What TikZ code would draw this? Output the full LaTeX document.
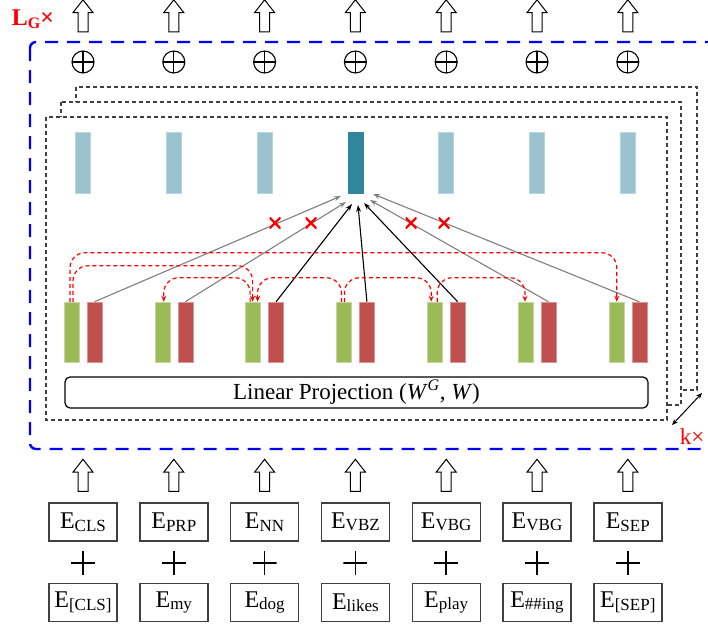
\documentclass[tikz,border=0pt]{standalone}
\usepackage{fontspec}
\setmainfont{Liberation Serif}
\usetikzlibrary{arrows.meta,positioning,calc,shapes.arrows}
\definecolor{hidblue}{RGB}{155,195,207}
\definecolor{hidteal}{RGB}{49,134,155}
\definecolor{posgreen}{RGB}{155,187,89}
\definecolor{tokred}{RGB}{192,80,77}
\definecolor{dashgray}{RGB}{64,64,64}
\definecolor{lgblue}{RGB}{0,0,255}
\newcommand{\Esub}[1]{E\raisebox{-2.5pt}{\fontsize{17}{17}\selectfont #1}}
\tikzset{
  uparr/.style={single arrow, draw=black, fill=white, line width=1pt, rotate=90,
                minimum height=32pt, inner xsep=0pt, inner ysep=4.5pt, single arrow head extend=5pt,
                single arrow tip angle=76},
  oplus/.style={circle, draw=black, line width=1.1pt, minimum size=22pt, inner sep=0pt,
                path picture={\draw[line width=1.1pt] (path picture bounding box.north) -- (path picture bounding box.south)
                  (path picture bounding box.west) -- (path picture bounding box.east);}},
  hbar/.style={fill=hidblue, draw=hidblue!70!white, line width=0.5pt, minimum width=15pt, minimum height=61pt, inner sep=0pt},
  gbar/.style={fill=posgreen, draw=posgreen!60!white, line width=0.5pt, minimum width=15pt, minimum height=60pt, inner sep=0pt},
  rbar/.style={fill=tokred, draw=tokred!60!white, line width=0.5pt, minimum width=15pt, minimum height=60pt, inner sep=0pt},
  embox/.style={draw=dashgray, line width=1.4pt, minimum width=68pt, minimum height=38pt, inner sep=0pt,
                font=\fontsize{24}{28}\selectfont},
  plusnode/.style={minimum size=24pt, inner sep=0pt,
                path picture={\draw[line width=1.6pt] (path picture bounding box.north) -- (path picture bounding box.south)
                  (path picture bounding box.west) -- (path picture bounding box.east);}},
  projbox/.style={draw=black, line width=1.2pt, rounded corners=5pt, minimum width=583pt, minimum height=31pt,
                  inner sep=0pt, font=\fontsize{23}{26}\selectfont},
  layerbox/.style={draw=dashgray, fill=white, line width=1.2pt, dash pattern=on 4pt off 3pt},
  lgbox/.style={draw=lgblue, line width=2.4pt, dash pattern=on 13pt off 9pt, rounded corners=6pt},
  attarr/.style={-{Stealth[length=7pt, width=5pt]}, line width=1.1pt},
  dep/.style={-{Stealth[length=6pt, width=5pt]}, red, line width=1.2pt, dash pattern=on 4pt off 3pt, rounded corners=15pt},
  xmark/.style={minimum size=11pt, inner sep=0pt,
                path picture={\draw[red, line width=2.2pt] (path picture bounding box.north west) -- (path picture bounding box.south east)
                  (path picture bounding box.north east) -- (path picture bounding box.south west);}},
}

\begin{document}
\begin{tikzpicture}[x=1pt, y=-1pt]
  \useasboundingbox (0,0) rectangle (708,624);
  % repeated layers
  \draw[lgbox] (30,42) rectangle (722,449);
  \node[red, font=\fontsize{24}{26}\selectfont\bfseries] (lg) at (33,19) {L\raisebox{-3pt}{\fontsize{16}{16}\selectfont G}×};
  \draw[layerbox] (76,87) rectangle (697,390);
  \draw[layerbox] (61,102) rectangle (681,405);
  \draw[layerbox] (46,117) rectangle (667,420);
  \coordinate (ka) at (672,425);
  \coordinate (kb) at (702,393);
  \draw[{Stealth[length=6pt, width=5pt]}-{Stealth[length=6pt, width=5pt]}, line width=1pt] (ka) -- (kb);
  \node[red, font=\fontsize{23}{25}\selectfont] (kl) at (692,437) {k×};

  % columns
  \foreach \i/\pos/\tok in {1/CLS/[CLS], 2/PRP/my, 3/NN/dog, 4/VBZ/likes, 5/VBG/play, 6/VBG/\#\#ing, 7/SEP/[SEP]}{
    \pgfmathsetmacro{\x}{83+90.8*(\i-1)}
    \node[uparr] (t\i) at (\x,19) {};
    \node[oplus] (o\i) at (\x,62) {};
    \node[hbar] (h\i) at (\x,162.5) {};
    \node[gbar] (g\i) at (\x-11.5,332) {};
    \node[rbar] (r\i) at (\x+11.5,332) {};
    \node[uparr] (u\i) at (\x,478.5) {};
    \node[embox] (p\i) at (\x,522) {\Esub{\pos}};
    \node[plusnode] (s\i) at (\x,563) {};
    \node[embox] (w\i) at (\x,602.5) {\Esub{\tok}};
  }
  \node[hbar, fill=hidteal, draw=hidteal] (hq) at (h4) {};
  \node[projbox] (proj) at (356.5,392.5) {Linear Projection (\textit{W}\textsuperscript{\textit{G}}, \textit{W})};

  % attention into the query position
  \coordinate (e1) at (341,196);
  \coordinate (e2) at (346,202);
  \coordinate (e3) at (352,204);
  \coordinate (e4) at (358,205);
  \coordinate (e5) at (364,203);
  \coordinate (e6) at (370,200);
  \coordinate (e7) at (373,194);
  \foreach \i/\c in {1/gray, 2/gray, 3/black, 4/black, 5/black, 6/gray, 7/gray}
    \draw[attarr, \c] (r\i.north) -- (e\i);
  \node[xmark] (x1) at (275,223) {};
  \node[xmark] (x2) at (311,223) {};
  \node[xmark] (x3) at (411,223) {};
  \node[xmark] (x4) at (444,223) {};

  % dependency arcs
  \draw[dep] ([xshift=-1.5pt]g1.north) -- ++(0,-49) -| ([xshift=0.5pt]g7.north);
  \draw[dep] ([xshift=1.5pt]g1.north) -- ++(0,-36) -| ([xshift=-0.5pt]g3.north);
  \draw[dep] ([xshift=-3pt]g3.north) -- ++(0,-24) -| ([xshift=1.5pt]g2.north);
  \draw[dep] ([xshift=-2.5pt]g4.north) -- ++(0,-24) -| ([xshift=4.5pt]g3.north);
  \draw[dep] ([xshift=0.5pt]g4.north) -- ++(0,-24) -| ([xshift=-3.5pt]g5.north);
  \draw[dep] ([xshift=2.5pt]g5.north) -- ++(0,-24) -| ([xshift=-0.5pt]g6.north);
\end{tikzpicture}
\end{document}
